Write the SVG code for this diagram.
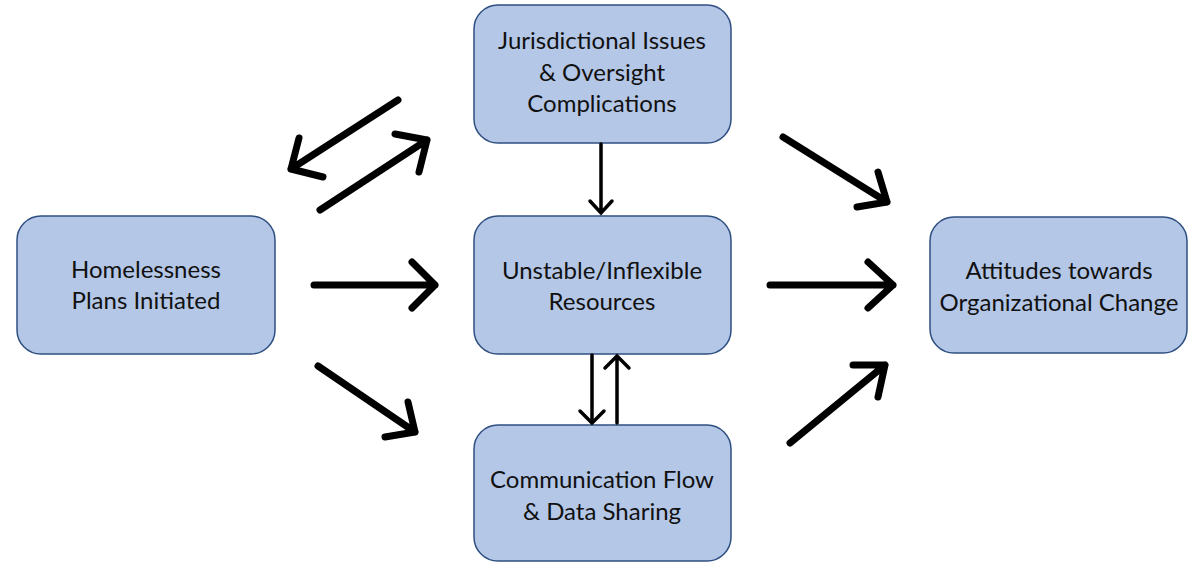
<svg xmlns="http://www.w3.org/2000/svg" width="1188" height="563" viewBox="0 0 1188 563">
<style>
.box{fill:#B4C7E7;stroke:#2F4F80;stroke-width:1.5}
.t{font-family:Lato,"Open Sans",sans-serif;font-size:24px;fill:#111;text-anchor:middle}
.a{fill:none;stroke:#000;stroke-width:7;stroke-linecap:round;stroke-linejoin:round}
.b{fill:none;stroke:#000;stroke-width:3.5;stroke-linecap:round;stroke-linejoin:miter}
</style>
<rect width="1188" height="563" fill="#fff"/>
<g id="n-homeless"><rect class="box" x="17" y="216" width="258" height="138" rx="24"/>
<text class="t" x="146" y="278">Homelessness</text><text class="t" x="146" y="309">Plans Initiated</text></g>
<g id="n-juris"><rect class="box" x="474" y="5" width="257" height="138" rx="24"/>
<text class="t" x="602" y="49">Jurisdictional Issues</text><text class="t" x="602" y="81">&amp; Oversight</text><text class="t" x="602" y="112">Complications</text></g>
<g id="n-unstable"><rect class="box" x="474" y="216" width="257" height="138" rx="24"/>
<text class="t" x="602" y="279">Unstable/Inflexible</text><text class="t" x="602" y="310">Resources</text></g>
<g id="n-comm"><rect class="box" x="474" y="425" width="257" height="136" rx="24"/>
<text class="t" x="602" y="488">Communication Flow</text><text class="t" x="602" y="520">&amp; Data Sharing</text></g>
<g id="n-attitudes"><rect class="box" x="930" y="217" width="257" height="136" rx="24"/>
<text class="t" x="1059" y="279">Attitudes towards</text><text class="t" x="1059" y="311">Organizational Change</text></g>
<g id="connectors">
<path class="a" d="M398,100 L291,169 M299,138 L291,169 L323,177"/>
<path class="a" d="M320,210 L427,140 M395,134 L427,140 L419,172"/>
<path class="a" d="M314,285 L435,285 M412,262 L435,285 L412,308"/>
<path class="a" d="M318,366 L415,432 M408,402 L415,432 L385,437"/>
<path class="b" d="M601,144 L601,213 M590,201 L601,213 L612,201"/>
<path class="b" d="M592,355 L592,423 M580,411 L592,423 L604,411"/>
<path class="b" d="M617,423 L617,356 M605,368 L617,356 L629,368"/>
<path class="a" d="M783,137 L887,202 M878,172 L887,202 L857,207"/>
<path class="a" d="M770,285 L893,285 M868,262 L893,285 L868,308"/>
<path class="a" d="M790,443 L885,365 M853,365 L885,365 L878,397"/>
</g>
</svg>
